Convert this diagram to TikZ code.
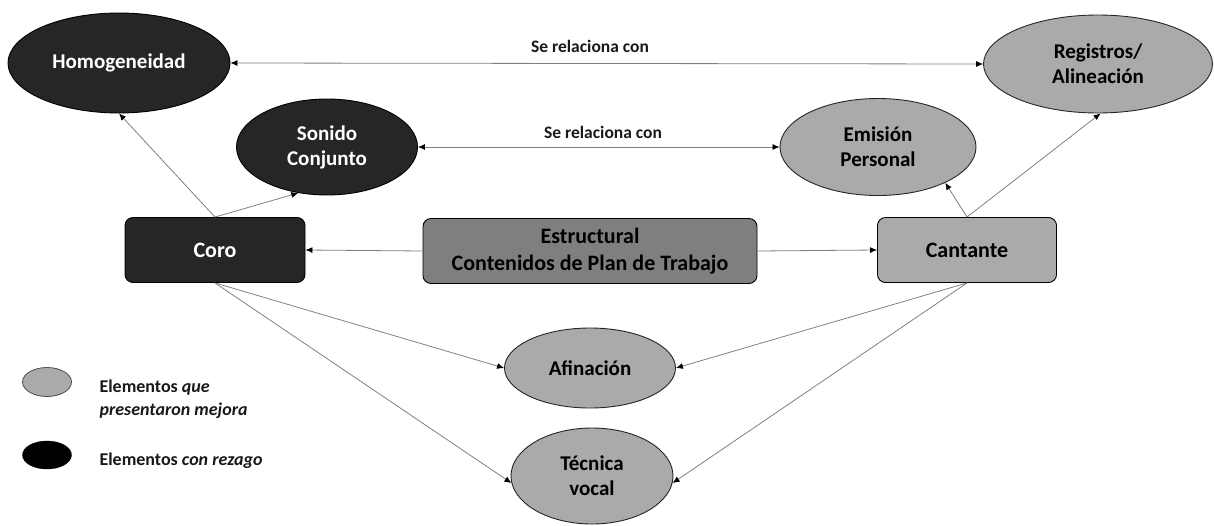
\documentclass[tikz,border=0pt]{standalone}
\usepackage{fontspec}
\setmainfont{Carlito}
\usetikzlibrary{shapes.geometric,arrows.meta}
\definecolor{dkc}{HTML}{262626}
\definecolor{ltc}{HTML}{ABA9AA}
\definecolor{mdc}{HTML}{7F7F7F}
\definecolor{lnc}{HTML}{808080}
\begin{document}
\begin{tikzpicture}[x=1pt,y=-1pt,
  dkell/.style={ellipse, draw=black, line width=0.9pt, fill=dkc, text=white, inner sep=0pt, align=center, font=\bfseries\fontsize{21}{25}\selectfont},
  ltell/.style={ellipse, draw=black!85, line width=0.9pt, fill=ltc, text=black, inner sep=0pt, align=center, font=\bfseries\fontsize{21}{25}\selectfont},
  rbox/.style={rectangle, rounded corners=8pt, draw=black, line width=0.9pt, inner sep=0pt, align=center, font=\bfseries\fontsize{22}{27}\selectfont},
  conn/.style={draw=lnc, line width=0.8pt, -{Latex[black,length=7pt,width=6pt]}},
  conn2/.style={draw=lnc, line width=0.8pt, {Latex[black,length=7pt,width=6pt]}-{Latex[black,length=7pt,width=6pt]}},
  rel/.style={font=\bfseries\fontsize{17.5}{20}\selectfont, text=black!90},
  legtxt/.style={anchor=base west, font=\bfseries\fontsize{18}{22}\selectfont, text=black!90}
]
\useasboundingbox (0,0) rectangle (1214,525);

% ellipses
\node[dkell, minimum width=222pt, minimum height=100pt] (hom) at (119,63) {Homogeneidad};
\node[dkell, minimum width=181pt, minimum height=96pt] (son) at (327,147) {Sonido\\Conjunto};
\node[ltell, minimum width=229pt, minimum height=98pt] (reg) at (1098,64) {Registros/\\Alineación};
\node[ltell, minimum width=196pt, minimum height=97pt] (emi) at (878,147) {Emisión\\Personal};
\node[ltell, minimum width=171pt, minimum height=80pt] (afi) at (590,368) {Afinación};
\node[ltell, minimum width=162pt, minimum height=96pt] (tec) at (592,476) {Técnica\\vocal};

% boxes
\node[rbox, fill=dkc, text=white, minimum width=180pt, minimum height=65pt] (coro) at (215,250) {Coro};
\node[rbox, fill=mdc, text=black, minimum width=334pt, minimum height=65pt] (est) at (590,251) {Estructural\\Contenidos de Plan de Trabajo};
\node[rbox, fill=ltc, text=black, minimum width=179pt, minimum height=65pt] (can) at (967,250) {Cantante};

% relation labels
\node[rel] (rel1) at (590,46) {Se relaciona con};
\node[rel] (rel2) at (603,132) {Se relaciona con};

% connectors
\draw[conn2] (hom.east) -- (reg.west);
\draw[conn2] (son.east) -- (emi.west);
\draw[conn] (est.west) -- (coro.east);
\draw[conn] (est.east) -- (can.west);
\draw[conn] (coro.north) -- (hom.south);
\draw[conn] (coro.north) -- (son.-122);
\draw[conn] (can.north) -- (emi.-28);
\draw[conn] (can.north) -- (reg.-87);
\draw[conn] (coro.south) -- (afi.west);
\draw[conn] (coro.south) -- (tec.185);
\draw[conn] (can.south) -- (afi.east);
\draw[conn] (can.south) -- (tec.-5);

% legend
\node[ellipse, draw=black!70, line width=0.8pt, fill=ltc, minimum width=49pt, minimum height=29pt, inner sep=0pt] (lg1) at (47,382) {};
\node[ellipse, draw=black, fill=black, minimum width=49pt, minimum height=28pt, inner sep=0pt] (lg2) at (47,455) {};
\node[legtxt] (lt1a) at (96,392) {Elementos \textit{que}};
\node[legtxt] (lt1b) at (96,415) {\textit{presentaron mejora}};
\node[legtxt] (lt2) at (96,465) {Elementos \textit{con rezago}};
\end{tikzpicture}
\end{document}
